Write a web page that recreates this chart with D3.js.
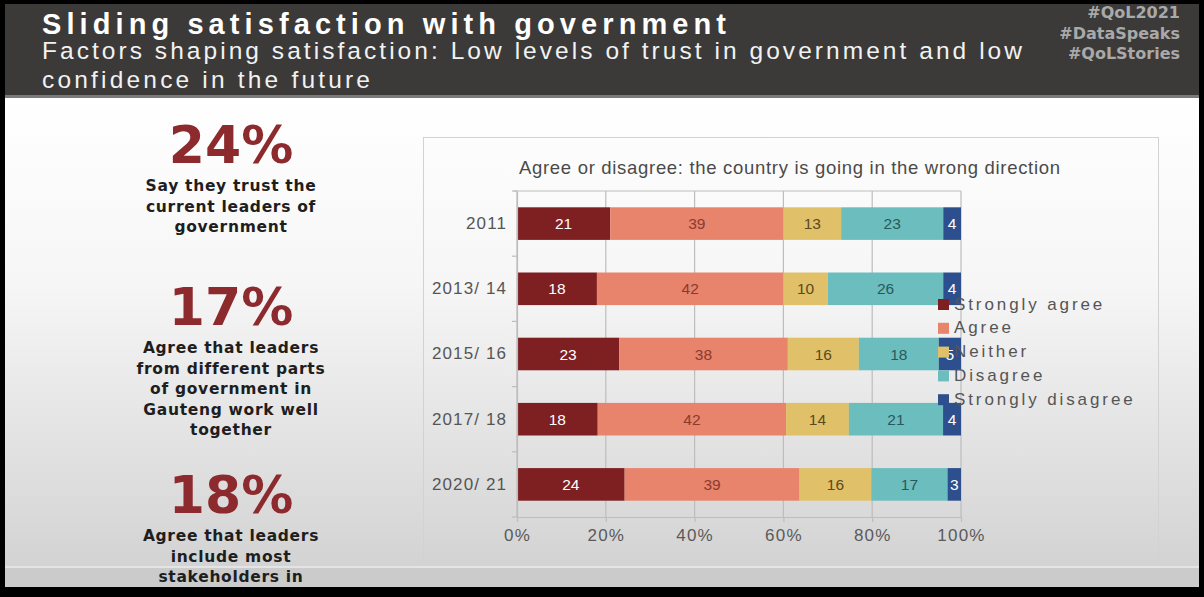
<!DOCTYPE html>
<html>
<head>
<meta charset="utf-8">
<script src="https://cdn.jsdelivr.net/npm/d3@7"></script>
<style>
  html, body { margin: 0; padding: 0; background: #000; }
  svg { display: block; }
</style>
</head>
<body>
<svg id="slide" width="1204" height="597"></svg>
<script>
// ---- data ----
const years = ["2011", "2013/ 14", "2015/ 16", "2017/ 18", "2020/ 21"];
const seriesNames = ["Strongly agree", "Agree", "Neither", "Disagree", "Strongly disagree"];
const stronglyAgree    = [21, 18, 23, 18, 24];
const agree            = [39, 42, 38, 42, 39];
const neither          = [13, 10, 16, 14, 16];
const disagree         = [23, 26, 18, 21, 17];
const stronglyDisagree = [4, 4, 5, 4, 3];
const xTickValues = [0, 0.2, 0.4, 0.6, 0.8, 1];

const slideTitle = "Sliding satisfaction with government";
const slideSubtitle = ["Factors shaping satisfaction: Low levels of trust in government and low",
                       "confidence in the future"];
const hashtags = ["#QoL2021", "#DataSpeaks", "#QoLStories"];
const chartTitle = "Agree or disagree: the country is going in the wrong direction";

const statValues = ["24%", "17%", "18%"];
const statTexts = [
  ["Say they trust the", "current leaders of", "government"],
  ["Agree that leaders", "from different parts", "of government in", "Gauteng work well", "together"],
  ["Agree that leaders", "include most", "stakeholders in"]
];

// ---- styles ----
const seriesColors = ["#7e1f22", "#e8836c", "#e0c069", "#6cbdbd", "#2e4f8d"];
const valueColors  = ["#ffffff", "#8a3b30", "#5b4a1e", "#275a5c", "#ffffff"];
const sans = "'Liberation Sans', Arial, sans-serif";
const heavy = "'DejaVu Sans', Verdana, sans-serif";

const svg = d3.select("#slide");
const W = 1204, H = 597;

// ---- slide background ----
const defs = svg.append("defs");
const bg = defs.append("linearGradient").attr("id", "bodyFade")
  .attr("x1", 0).attr("y1", 0).attr("x2", 0).attr("y2", 1);
bg.append("stop").attr("offset", "0%").attr("stop-color", "#ffffff");
bg.append("stop").attr("offset", "40%").attr("stop-color", "#f6f6f6");
bg.append("stop").attr("offset", "100%").attr("stop-color", "#d3d3d3");

svg.append("rect").attr("width", W).attr("height", H).attr("fill", "#000");
svg.append("rect").attr("x", 5).attr("y", 98).attr("width", 1194).attr("height", 468)
  .attr("fill", "url(#bodyFade)");
svg.append("rect").attr("x", 5).attr("y", 566).attr("width", 1194).attr("height", 21)
  .attr("fill", "#cbcbcb");
svg.append("rect").attr("x", 5).attr("y", 566).attr("width", 1194).attr("height", 2)
  .attr("fill", "#e4e4e4");

// header band
svg.append("rect").attr("x", 5).attr("y", 4).attr("width", 1194).attr("height", 92)
  .attr("fill", "#3b3a39");
svg.append("rect").attr("x", 5).attr("y", 95).attr("width", 1194).attr("height", 3)
  .attr("fill", "#7a7a7a");

svg.append("text").attr("x", 42).attr("y", 34)
  .attr("font-family", sans).attr("font-weight", "bold").attr("font-size", 29)
  .attr("fill", "#ffffff").attr("textLength", 684).attr("lengthAdjust", "spacing")
  .text(slideTitle);

const subWidths = [980, 328];
slideSubtitle.forEach((line, i) => {
  svg.append("text").attr("x", 42).attr("y", 59 + i * 28.5)
    .attr("font-family", sans).attr("font-size", 24.5)
    .attr("fill", "#f2f2f2").attr("textLength", subWidths[i]).attr("lengthAdjust", "spacing")
    .text(line);
});

hashtags.forEach((tag, i) => {
  svg.append("text").attr("x", 1180).attr("y", 18 + i * 20.5)
    .attr("text-anchor", "end")
    .attr("font-family", heavy).attr("font-weight", "bold").attr("font-size", 16)
    .attr("fill", "#a9a9a9")
    .text(tag);
});

// ---- key figures column ----
const statX = 231;
const statNumberBase = [163, 325, 513];
statValues.forEach((v, i) => {
  const g = svg.append("g");
  g.append("text").attr("x", statX).attr("y", statNumberBase[i])
    .attr("text-anchor", "middle")
    .attr("font-family", heavy).attr("font-weight", "bold").attr("font-size", 52)
    .attr("fill", "#8c2a2e")
    .text(v);
  statTexts[i].forEach((line, j) => {
    g.append("text").attr("x", statX).attr("y", statNumberBase[i] + 28 + j * 20.6)
      .attr("text-anchor", "middle")
      .attr("font-family", heavy).attr("font-weight", "bold").attr("font-size", 15.5)
      .attr("letter-spacing", 0.7)
      .attr("fill", "#1e1e1e")
      .text(line);
  });
});

// ---- chart panel ----
svg.append("rect").attr("x", 423.5).attr("y", 137.5).attr("width", 735).attr("height", 426)
  .attr("fill", "none").attr("stroke", "#d2d2d2");

svg.append("text").attr("x", 519).attr("y", 174)
  .attr("font-family", sans).attr("font-size", 18.5).attr("fill", "#4a4a4a")
  .attr("textLength", 541).attr("lengthAdjust", "spacing")
  .text(chartTitle);

const plot = { left: 517, right: 961, top: 191, bottom: 517 };

const x = d3.scaleLinear().domain([0, 1]).range([plot.left, plot.right]);
const y = d3.scaleBand().domain(years).range([plot.top, plot.bottom])
  .paddingInner(0.5).paddingOuter(0.25);

const table = years.map((yr, i) => ({
  year: yr,
  "Strongly agree": stronglyAgree[i],
  "Agree": agree[i],
  "Neither": neither[i],
  "Disagree": disagree[i],
  "Strongly disagree": stronglyDisagree[i]
}));
const stacked = d3.stack().keys(seriesNames).offset(d3.stackOffsetExpand)(table);

// gridlines and frame
const grid = svg.append("g");
grid.selectAll("line").data(xTickValues).join("line")
  .attr("x1", d => x(d)).attr("x2", d => x(d))
  .attr("y1", plot.top).attr("y2", plot.bottom)
  .attr("stroke", "#bdbdbd").attr("stroke-width", 1.2);
grid.append("line").attr("x1", plot.left - 3).attr("x2", plot.right)
  .attr("y1", plot.top).attr("y2", plot.top)
  .attr("stroke", "#bdbdbd").attr("stroke-width", 1.2);

// category separators on the left edge
const boundaries = d3.range(years.length + 1).map(i => y.range()[0] + i * y.step());
grid.selectAll("line.sep").data(boundaries).join("line").attr("class", "sep")
  .attr("x1", plot.left - 5).attr("x2", plot.left)
  .attr("y1", d => d).attr("y2", d => d)
  .attr("stroke", "#bdbdbd").attr("stroke-width", 1.2);

// bars
const layers = svg.append("g").selectAll("g").data(stacked).join("g")
  .attr("fill", (d, i) => seriesColors[i]);
layers.selectAll("rect").data(d => d).join("rect")
  .attr("x", d => x(d[0]))
  .attr("width", d => x(d[1]) - x(d[0]))
  .attr("y", d => y(d.data.year))
  .attr("height", y.bandwidth());

// value labels
const labels = svg.append("g").selectAll("g").data(stacked).join("g")
  .attr("fill", (d, i) => valueColors[i]);
labels.selectAll("text").data(d => d.map(p => Object.assign(p, { key: d.key }))).join("text")
  .attr("x", d => (x(d[0]) + x(d[1])) / 2)
  .attr("y", d => y(d.data.year) + y.bandwidth() / 2)
  .attr("dy", "0.36em")
  .attr("text-anchor", "middle")
  .attr("font-family", sans).attr("font-size", 15.5)
  .text(d => d.data[d.key]);

// x axis
const xAxis = svg.append("g").attr("transform", `translate(0,${plot.bottom})`)
  .call(d3.axisBottom(x).tickValues(xTickValues).tickFormat(d3.format(".0%"))
    .tickSize(5).tickSizeOuter(0).tickPadding(7));
xAxis.select(".domain").attr("stroke", "#bdbdbd").attr("stroke-width", 1.2);
xAxis.selectAll(".tick line").attr("stroke", "#bdbdbd").attr("stroke-width", 1.2);
xAxis.selectAll(".tick text")
  .attr("font-family", sans).attr("font-size", 17).attr("letter-spacing", 1.2)
  .attr("fill", "#5a5a5a");

// y axis
const yAxis = svg.append("g").attr("transform", `translate(${plot.left},0)`)
  .call(d3.axisLeft(y).tickSize(0).tickPadding(10));
yAxis.select(".domain").attr("stroke", "#bdbdbd").attr("stroke-width", 1.2);
yAxis.selectAll(".tick text")
  .attr("font-family", sans).attr("font-size", 17).attr("letter-spacing", 1.1)
  .attr("fill", "#555");

// legend
const legend = svg.append("g").attr("transform", "translate(938,299)");
const item = legend.selectAll("g").data(seriesNames).join("g")
  .attr("transform", (d, i) => `translate(0,${i * 23.8})`);
item.append("rect").attr("width", 11).attr("height", 11)
  .attr("fill", (d, i) => seriesColors[i]);
item.append("text").attr("x", 16).attr("y", 10.5)
  .attr("font-family", sans).attr("font-size", 17).attr("letter-spacing", 2.9)
  .attr("fill", "#555")
  .text(d => d);
</script>
</body>
</html>
